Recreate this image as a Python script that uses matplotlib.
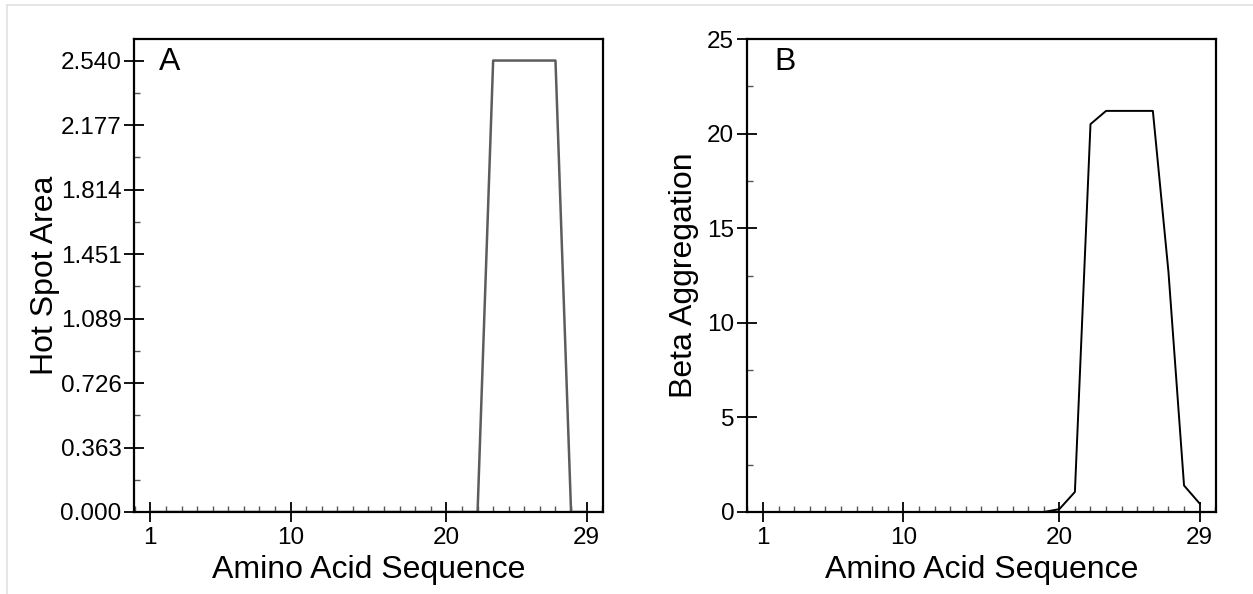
import numpy as np
import matplotlib
matplotlib.use("Agg")
import matplotlib.pyplot as plt
from matplotlib.lines import Line2D
from matplotlib.ticker import FixedLocator, MultipleLocator

plt.rcParams['font.family'] = ['Liberation Sans', 'DejaVu Sans']

# data
residues = np.arange(1, 30)
hot_spot = [0.0] * 22 + [2.54, 2.54, 2.54, 2.54, 2.54, 0.0, 0.0]
beta_agg = [0.0] * 19 + [0.15, 1.06, 20.5, 21.2, 21.2, 21.2, 21.2, 12.7, 1.4, 0.45]

x_ticks = [1, 10, 20, 29]
hs_ticks = [k * 2.54 / 7 for k in range(8)]
hs_labels = ['%.3f' % v for v in hs_ticks]
ba_ticks = [0, 5, 10, 15, 20, 25]

fig = plt.figure(figsize=(12.53, 5.94), dpi=100)

# faint frame on top and left, like the source image
fig.add_artist(Line2D([6.5 / 1253, 1], [1 - 5 / 594, 1 - 5 / 594], color='#e2e2e2', lw=1.2))
fig.add_artist(Line2D([6.5 / 1253, 6.5 / 1253], [0, 1 - 5 / 594], color='#e2e2e2', lw=1.2))

axA = fig.add_axes([134 / 1253, 82 / 594, 469 / 1253, 473 / 594])
axB = fig.add_axes([746.7 / 1253, 82 / 594, 469.3 / 1253, 473 / 594])


def style_axis(ax):
    for side in ['top', 'right', 'left', 'bottom']:
        ax.spines[side].set_linewidth(1.6)
    ax.tick_params(which='major', direction='inout', length=14, width=1.3,
                   labelsize=17.5, top=False, right=False)
    ax.tick_params(axis='y', which='major', pad=2)
    ax.tick_params(axis='x', which='major', pad=4)
    ax.tick_params(which='minor', direction='in', length=4.5, width=1.0,
                   top=False, right=False, color='#555555')
    ax.set_xlim(-0.05, 30.05)
    ax.xaxis.set_major_locator(FixedLocator(x_ticks))
    ax.xaxis.set_minor_locator(MultipleLocator(1))
    ax.set_xlabel('Amino Acid Sequence', fontsize=23, labelpad=4)


# Panel A
axA.plot(residues, hot_spot, color='#5c5c5c', lw=1.8)
axA.set_ylim(0, 2.54 * 472 / 450.5)
axA.yaxis.set_major_locator(FixedLocator(hs_ticks))
axA.set_yticklabels(hs_labels)
axA.yaxis.set_minor_locator(FixedLocator([v + 2.54 / 14 for v in hs_ticks[:-1]]))
style_axis(axA)
axA.set_ylabel('Hot Spot Area', fontsize=23, labelpad=0)
axA.text(0.053, 0.983, 'A', transform=axA.transAxes, fontsize=23, va='top', ha='left')

# Panel B
axB.plot(residues, beta_agg, color='black', lw=1.4)
axB.set_ylim(0, 25)
axB.yaxis.set_major_locator(FixedLocator(ba_ticks))
axB.yaxis.set_minor_locator(MultipleLocator(2.5))
style_axis(axB)
axB.set_ylabel('Beta Aggregation', fontsize=23, labelpad=6)
axB.text(0.06, 0.983, 'B', transform=axB.transAxes, fontsize=23, va='top', ha='left')

fig.savefig('out.png', dpi=100)
